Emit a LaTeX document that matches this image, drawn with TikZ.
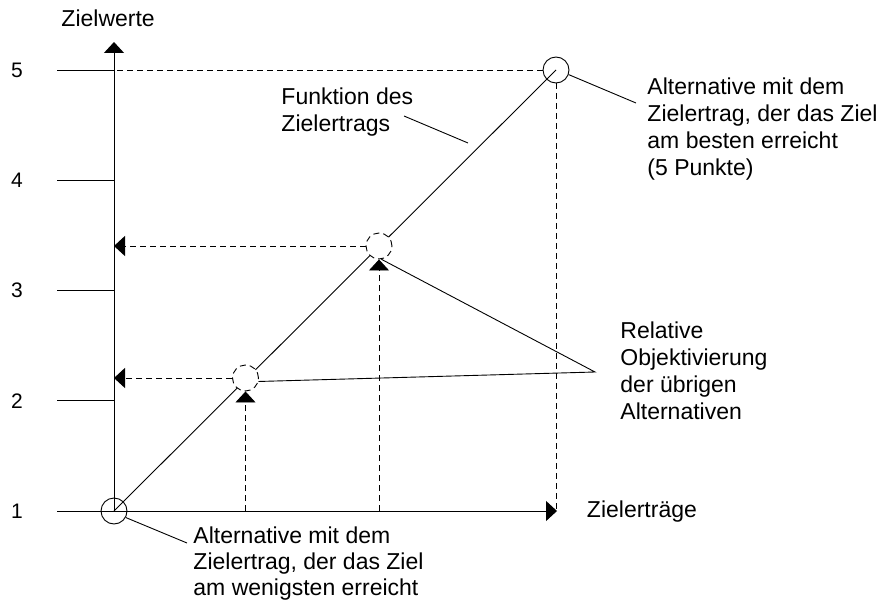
\documentclass[tikz,border=0pt]{standalone}
\usepackage{fontspec}
\setmainfont{Liberation Sans}
\usetikzlibrary{arrows.meta}
\begin{document}
\begin{tikzpicture}[x=1pt,y=-1pt,
  line width=0.9pt,
  tip/.style={-{Triangle[length=11pt,width=20pt]}},
  guide/.style={dash pattern=on 6pt off 4pt},
  pointcirc/.style={circle,draw,minimum size=26pt,inner sep=0pt},
  labeltxt/.style={font=\fontsize{23}{27}\selectfont,inner sep=0pt,align=left,anchor=north west},
  num/.style={font=\fontsize{21}{24}\selectfont,inner sep=0pt},
]
\useasboundingbox (0,0) rectangle (883,602);

% axes
\coordinate (O) at (114,511);
\coordinate (ytop) at (114,42);
\coordinate (xend) at (557,511);
\coordinate (t1) at (57,511);
\draw[tip] (O) -- (ytop);
\draw[tip] (t1) -- (xend);

% scale of the target values
\node[num] (n1) at (17,511) {1};
\foreach \v/\y in {2/400.75,3/290.5,4/180.25,5/70}{
  \coordinate (t\v) at (57,\y);
  \node[num] (n\v) at (17,\y) {\v};
  \draw (t\v) -- (t\v -| O);
}

% axis titles
\node[labeltxt,anchor=base west] (ylab) at (61,27) {Zielwerte};
\node[labeltxt,anchor=base west] (xlab) at (586.5,517) {Zielerträge};

% function line between the extreme alternatives
\node[pointcirc] (c1) at (O) {};
\node[pointcirc] (c5) at (556,70) {};
\draw (c1.center) -- (c5.center);

% guides of the best alternative
\draw[guide] (c5.west) -- (c5.west -| O);
\draw[guide] (c5.south) -- (c5.south |- O);

% intermediate alternatives
\node[pointcirc,guide,fill=white] (ca) at (245.5,378) {};
\node[pointcirc,guide,fill=white] (cb) at (379,246) {};
\draw[guide,tip] (ca.west) -- (ca.west -| O);
\draw[guide,tip] (ca.south |- O) -- (ca.south);
\draw[guide,tip] (cb.west) -- (cb.west -| O);
\draw[guide,tip] (cb.south |- O) -- (cb.south);

% labels and leaders
\node[labeltxt] (best) at (647,77) {Alternative mit dem\\Zielertrag, der das Ziel\\am besten erreicht\\(5 Punkte)};
\coordinate (l5) at (636,103);
\draw (c5.-20) -- (l5);

\node[labeltxt,font=\fontsize{23}{26}\selectfont] (worst) at (193,526.5) {Alternative mit dem\\Zielertrag, der das Ziel\\am wenigsten erreicht};
\coordinate (l1) at (187,543);
\draw (c1.-29) -- (l1);

\node[labeltxt] (func) at (281,87) {Funktion des\\Zielertrags};
\coordinate (fa) at (404,116);
\coordinate (fb) at (468,143);
\draw (fa) -- (fb);

\node[labeltxt] (rel) at (620,321) {Relative\\Objektivierung\\der übrigen\\Alternativen};
\coordinate (relp) at (595,372);
\draw (ca.-15) -- (relp) -- (cb.-80);
\end{tikzpicture}
\end{document}
